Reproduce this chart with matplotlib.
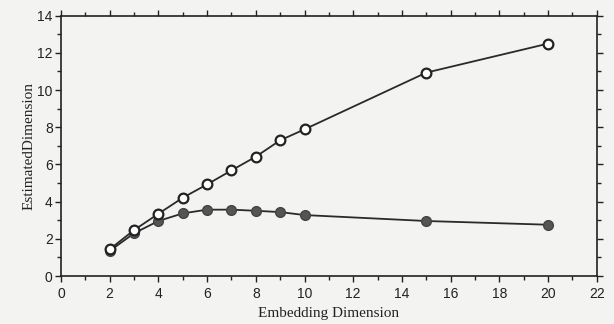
import matplotlib
matplotlib.use("Agg")
import matplotlib.pyplot as plt
from matplotlib.ticker import MultipleLocator

embedding_dim = [2, 3, 4, 5, 6, 7, 8, 9, 10, 15, 20]
open_series = [1.44, 2.47, 3.35, 4.21, 4.93, 5.68, 6.42, 7.30, 7.89, 10.94, 12.50]
filled_series = [1.35, 2.30, 2.96, 3.37, 3.57, 3.57, 3.51, 3.44, 3.28, 2.96, 2.76]

bg = "#f3f3f1"
fig = plt.figure(figsize=(6.14, 3.24), dpi=100, facecolor=bg)
ax = fig.add_axes([0.0993, 0.148, 0.8727, 0.8035], facecolor=bg)

ax.plot(embedding_dim, open_series, color="#2a2a2a", lw=1.3, marker="o", ms=7,
        mfc="white", mec="#222222", mew=1.6, zorder=3)
ax.plot(embedding_dim, filled_series, color="#2a2a2a", lw=1.3, marker="o", ms=7,
        mfc="#555555", mec="#444444", mew=1.0, zorder=2)

ax.set_xlim(0, 22)
ax.set_ylim(0, 14)
ax.xaxis.set_major_locator(MultipleLocator(2))
ax.xaxis.set_minor_locator(MultipleLocator(1))
ax.yaxis.set_major_locator(MultipleLocator(2))
ax.yaxis.set_minor_locator(MultipleLocator(1))
ax.tick_params(which="both", direction="out", top=True, right=True, color="#222222", width=1.0)
ax.tick_params(which="major", length=4, labelsize=10, labelcolor="#222222")
ax.tick_params(which="minor", length=3)
ax.tick_params(axis="x", which="major", pad=4)
ax.tick_params(axis="y", which="major", pad=2)
for lab in ax.get_xticklabels() + ax.get_yticklabels():
    lab.set_family("Liberation Sans")
for s in ax.spines.values():
    s.set_color("#222222")
    s.set_linewidth(1.2)

ax.set_xlabel("Embedding Dimension", family="Liberation Serif", fontsize=11, color="#222222", labelpad=4)
ax.set_ylabel("EstimatedDimension", family="Liberation Serif", fontsize=11, color="#222222", labelpad=1)

fig.savefig("out.png", dpi=100, facecolor=bg)
